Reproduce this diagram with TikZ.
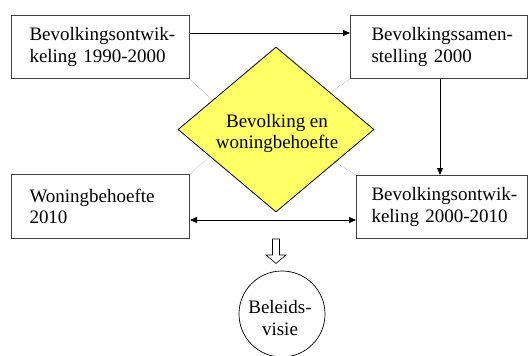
\documentclass[tikz,border=0pt]{standalone}
\usepackage{fontspec}
\setmainfont{Liberation Serif}
\usetikzlibrary{shapes.geometric,arrows.meta}
\definecolor{diayellow}{HTML}{FFFF66}
\hyphenpenalty=10000
\exhyphenpenalty=10000
\begin{document}
\begin{tikzpicture}[x=1pt,y=-1pt,
  txt/.style={font=\fontsize{19}{21.5}\selectfont},
  box/.style={txt,draw=black!75,line width=1pt,rectangle,align=left,minimum height=63pt,inner ysep=0pt,anchor=north west},
  conn/.style={line width=0.8pt,-{Triangle[length=7pt,width=6pt]}},
  dconn/.style={line width=0.8pt,{Triangle[length=7pt,width=6pt]}-{Triangle[length=7pt,width=6pt]}},
  guide/.style={draw=black!50,line width=0.5pt,densely dotted}]
\useasboundingbox (0,0) rectangle (528,356);

\node[box,text width=142pt,inner xsep=18pt] (tl) at (11,15) {Bevolkingsontwik-\\keling 1990-2000};
\node[box,text width=135pt,inner xsep=21pt] (tr) at (350,15) {Bevolkingssamen-\\stelling 2000};
\node[box,text width=142pt,inner xsep=18pt,minimum height=64pt] (bl) at (11,174) {Woningbehoefte\\2010};
\node[box,text width=141pt,inner xsep=15pt] (br) at (356,175) {Bevolkingsontwik-\\keling 2000-2010};

\coordinate (gtl) at (215,103);
\coordinate (gbl) at (215,152);
\coordinate (gtr) at (326,95);
\coordinate (gbr) at (333,161);
\draw[guide] (tl.south east) -- (gtl);
\draw[guide] (bl.north east) -- (gbl);
\draw[guide] (tr.south west) -- (gtr);
\draw[guide] (br.north west) -- (gbr);

\node[diamond,draw,fill=diayellow,line width=0.8pt,minimum width=196pt,minimum height=165pt,inner sep=0pt] (dia) at (276,129.5) {};
\node[txt,align=center,inner sep=0pt] (diatext) at (277,133.5) {Bevolking en\\woningbehoefte};

\draw[conn] ([yshift=-18pt]tl.north east) -- ([yshift=-18pt]tr.north west);
\draw[conn] ([xshift=90pt]tr.south west) -- ([xshift=84pt]br.north west);
\draw[dconn] ([yshift=19pt]bl.south east) -- ([yshift=19pt]br.south west);

\draw[line width=0.6pt,fill=white] (272.5,239) -- (279.5,239) -- (279.5,255) -- (286,255) -- (276,263.5) -- (266,255) -- (272.5,255) -- cycle;

\node[circle,draw,line width=0.7pt,minimum size=86pt,inner sep=0pt] (bv) at (282,314) {};
\node[txt,align=center,inner sep=0pt] (bvtext) at (280,318) {Beleids-\\visie};
\end{tikzpicture}
\end{document}
